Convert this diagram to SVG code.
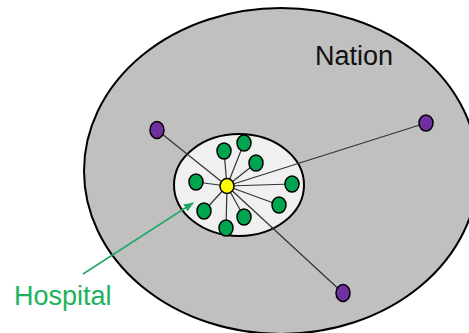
<svg xmlns="http://www.w3.org/2000/svg" width="469" height="333" viewBox="0 0 469 333">
<style>
.lbl{font-family:"Liberation Sans",Arial,sans-serif;}
.link{stroke:#333;stroke-width:1.2;}
.g{fill:#00a550;stroke:#000;stroke-width:1.5;}
.p{fill:#7030a0;stroke:#000;stroke-width:1.5;}
</style>
<defs>
<marker id="ah" markerWidth="10" markerHeight="8" refX="9" refY="4" orient="auto" markerUnits="userSpaceOnUse">
<path d="M0,0 L10,4 L0,8 z" fill="#22a866"/>
</marker>
</defs>
<rect width="469" height="333" fill="#fff"/>
<g id="nation">
<ellipse cx="281" cy="171" rx="197" ry="163" fill="#c0c0c0" stroke="#000" stroke-width="2"/>
<text class="lbl" x="315" y="65" font-size="27" fill="#111">Nation</text>
</g>
<g id="hospital-area">
<ellipse cx="239" cy="185" rx="65" ry="51" fill="#f0f0f0" stroke="#000" stroke-width="2"/>
</g>
<g id="connectors">
<line class="link" x1="227" y1="186" x2="157" y2="130"/>
<line class="link" x1="227" y1="186" x2="426" y2="123"/>
<line class="link" x1="227" y1="186" x2="343" y2="293"/>
<line class="link" x1="227" y1="186" x2="224" y2="151"/>
<line class="link" x1="227" y1="186" x2="244" y2="143"/>
<line class="link" x1="227" y1="186" x2="256" y2="163"/>
<line class="link" x1="227" y1="186" x2="196" y2="182"/>
<line class="link" x1="227" y1="186" x2="292" y2="184"/>
<line class="link" x1="227" y1="186" x2="279" y2="205"/>
<line class="link" x1="227" y1="186" x2="244" y2="217"/>
<line class="link" x1="227" y1="186" x2="226" y2="228"/>
<line class="link" x1="227" y1="186" x2="204" y2="211"/>
<line x1="83" y1="274" x2="193" y2="203" stroke="#22a866" stroke-width="1.5" marker-end="url(#ah)"/>
</g>
<g id="p1"><ellipse class="p" cx="157" cy="130" rx="7" ry="8.5"/></g>
<g id="p2"><ellipse class="p" cx="426" cy="123" rx="7" ry="8"/></g>
<g id="p3"><ellipse class="p" cx="343" cy="293" rx="7" ry="8.5"/></g>
<g id="n1"><ellipse class="g" cx="224" cy="151" rx="7" ry="8"/></g>
<g id="n2"><ellipse class="g" cx="244" cy="143" rx="7" ry="8"/></g>
<g id="n3"><ellipse class="g" cx="256" cy="163" rx="7" ry="8"/></g>
<g id="n4"><ellipse class="g" cx="196" cy="182" rx="7" ry="8"/></g>
<g id="n5"><ellipse class="g" cx="292" cy="184" rx="7" ry="8"/></g>
<g id="n6"><ellipse class="g" cx="279" cy="205" rx="7" ry="8"/></g>
<g id="n7"><ellipse class="g" cx="244" cy="217" rx="7" ry="8"/></g>
<g id="n8"><ellipse class="g" cx="226" cy="228" rx="7" ry="8"/></g>
<g id="n9"><ellipse class="g" cx="204" cy="211" rx="7" ry="8"/></g>
<g id="center"><ellipse cx="227" cy="186" rx="7" ry="7.5" fill="#ffff00" stroke="#000" stroke-width="1.5"/></g>
<g id="hospital-label">
<text class="lbl" x="14" y="305" font-size="27" fill="#1db35c">Hospital</text>
</g>
</svg>
